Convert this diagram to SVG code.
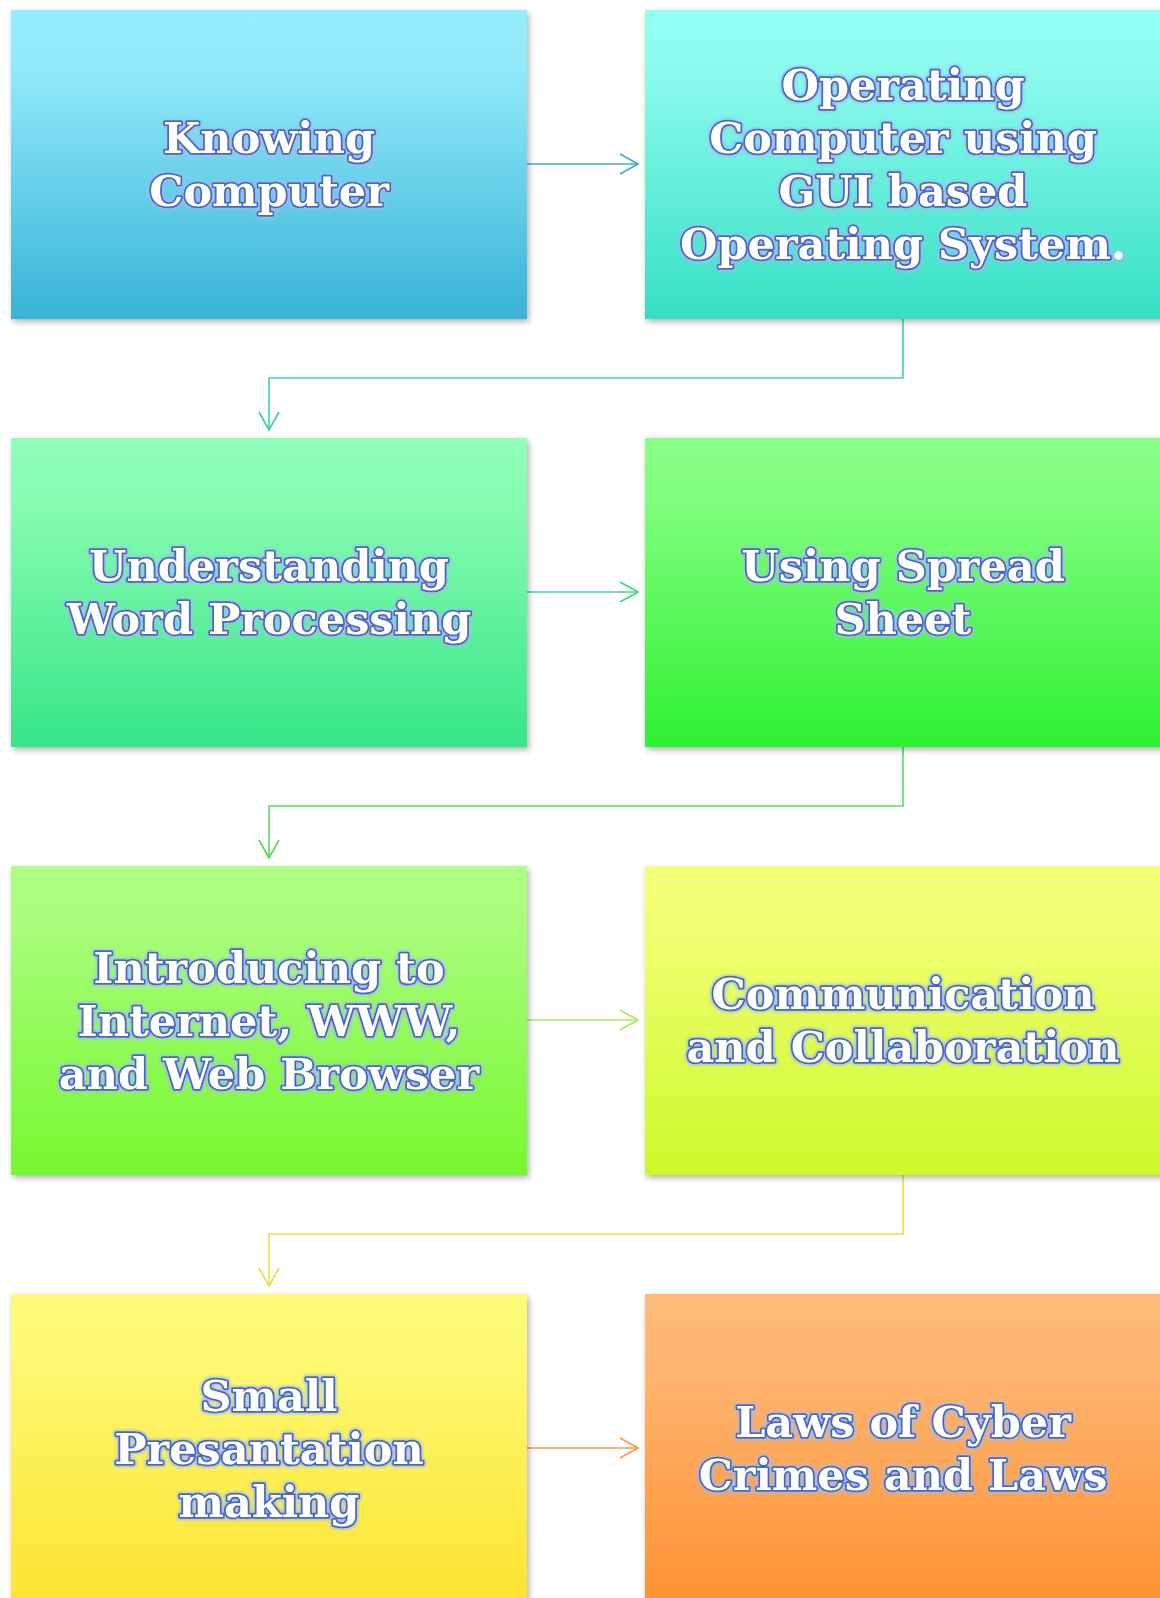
<svg xmlns="http://www.w3.org/2000/svg" width="1160" height="1598" viewBox="0 0 1160 1598">
<defs>
<style>
.box{filter:url(#shadow);}
.t{font-family:"DejaVu Serif","Liberation Serif",serif;font-weight:bold;font-size:43px;fill:#ffffff;stroke:#4a66bb;stroke-width:3.6;paint-order:stroke;stroke-linejoin:round;text-anchor:middle;filter:url(#glow);}
.c{fill:none;stroke-width:1.6;}
</style>
<filter id="shadow" x="-5%" y="-5%" width="115%" height="115%">
<feDropShadow dx="2" dy="3" stdDeviation="3" flood-color="#000" flood-opacity="0.3"/>
</filter>
<filter id="glow" x="-10%" y="-30%" width="120%" height="160%">
<feMorphology in="SourceAlpha" operator="dilate" radius="1.4" result="d"/>
<feGaussianBlur in="d" stdDeviation="1.8" result="b"/>
<feFlood flood-color="#9fbcf0"/>
<feComposite in2="b" operator="in" result="g"/>
<feMerge><feMergeNode in="g"/><feMergeNode in="SourceGraphic"/></feMerge>
</filter>
<linearGradient id="g1" x1="0" y1="0" x2="0" y2="1"><stop offset="0" stop-color="#95eefd"/><stop offset="0.2" stop-color="#8fe9fa"/><stop offset="1" stop-color="#38b3d6"/></linearGradient>
<linearGradient id="g2" x1="0" y1="0" x2="0" y2="1"><stop offset="0" stop-color="#92fff3"/><stop offset="0.2" stop-color="#8cfbee"/><stop offset="1" stop-color="#35dfc3"/></linearGradient>
<linearGradient id="g3" x1="0" y1="0" x2="0" y2="1"><stop offset="0" stop-color="#8effb8"/><stop offset="0.2" stop-color="#88fcb2"/><stop offset="1" stop-color="#36e688"/></linearGradient>
<linearGradient id="g4" x1="0" y1="0" x2="0" y2="1"><stop offset="0" stop-color="#8aff88"/><stop offset="0.2" stop-color="#80fd7e"/><stop offset="1" stop-color="#2ef132"/></linearGradient>
<linearGradient id="g5" x1="0" y1="0" x2="0" y2="1"><stop offset="0" stop-color="#aeff82"/><stop offset="0.2" stop-color="#a8fd7a"/><stop offset="1" stop-color="#76f82e"/></linearGradient>
<linearGradient id="g6" x1="0" y1="0" x2="0" y2="1"><stop offset="0" stop-color="#f6ff7a"/><stop offset="0.2" stop-color="#f2fe72"/><stop offset="1" stop-color="#ccfa2a"/></linearGradient>
<linearGradient id="g7" x1="0" y1="0" x2="0" y2="1"><stop offset="0" stop-color="#fdfb79"/><stop offset="0.2" stop-color="#fdf972"/><stop offset="1" stop-color="#fde22e"/></linearGradient>
<linearGradient id="g8" x1="0" y1="0" x2="0" y2="1"><stop offset="0" stop-color="#feb97a"/><stop offset="0.2" stop-color="#feb673"/><stop offset="1" stop-color="#fe9030"/></linearGradient>
<marker id="m1" markerUnits="userSpaceOnUse" markerWidth="22" markerHeight="24" viewBox="0 0 22 24" refX="20" refY="12" orient="auto"><path d="M2,2 L20,12 L2,22" fill="none" stroke="#47abca" stroke-width="1.8"/></marker>
<marker id="m2" markerUnits="userSpaceOnUse" markerWidth="22" markerHeight="24" viewBox="0 0 22 24" refX="20" refY="12" orient="auto"><path d="M2,2 L20,12 L2,22" fill="none" stroke="#3fd2ac" stroke-width="1.8"/></marker>
<marker id="m3" markerUnits="userSpaceOnUse" markerWidth="22" markerHeight="24" viewBox="0 0 22 24" refX="20" refY="12" orient="auto"><path d="M2,2 L20,12 L2,22" fill="none" stroke="#3ed88e" stroke-width="1.8"/></marker>
<marker id="m4" markerUnits="userSpaceOnUse" markerWidth="22" markerHeight="24" viewBox="0 0 22 24" refX="20" refY="12" orient="auto"><path d="M2,2 L20,12 L2,22" fill="none" stroke="#5ed85c" stroke-width="1.8"/></marker>
<marker id="m5" markerUnits="userSpaceOnUse" markerWidth="22" markerHeight="24" viewBox="0 0 22 24" refX="20" refY="12" orient="auto"><path d="M2,2 L20,12 L2,22" fill="none" stroke="#a6ee5a" stroke-width="1.8"/></marker>
<marker id="m6" markerUnits="userSpaceOnUse" markerWidth="22" markerHeight="24" viewBox="0 0 22 24" refX="20" refY="12" orient="auto"><path d="M2,2 L20,12 L2,22" fill="none" stroke="#e6e040" stroke-width="1.8"/></marker>
<marker id="m7" markerUnits="userSpaceOnUse" markerWidth="22" markerHeight="24" viewBox="0 0 22 24" refX="20" refY="12" orient="auto"><path d="M2,2 L20,12 L2,22" fill="none" stroke="#f99a48" stroke-width="1.8"/></marker>
</defs>
<rect width="1160" height="1598" fill="#ffffff"/>
<g id="connectors">
<path class="c" d="M527,164 H638" stroke="#47abca" marker-end="url(#m1)"/>
<path class="c" d="M903,319 V378 H269 V430" stroke="#3fd2ac" marker-end="url(#m2)"/>
<path class="c" d="M527,592 H638" stroke="#3ed88e" marker-end="url(#m3)"/>
<path class="c" d="M903,747 V806 H269 V858" stroke="#5ed85c" marker-end="url(#m4)"/>
<path class="c" d="M527,1020 H638" stroke="#a6ee5a" marker-end="url(#m5)"/>
<path class="c" d="M903,1175 V1234 H269 V1286" stroke="#e6e040" marker-end="url(#m6)"/>
<path class="c" d="M527,1448 H638" stroke="#f99a48" marker-end="url(#m7)"/>
</g>
<g id="n1"><rect class="box" x="11" y="10" width="516" height="309" fill="url(#g1)"/>
<text class="t"><tspan x="269" y="153">Knowing</tspan><tspan x="269" y="206">Computer</tspan></text></g>
<g id="n2"><rect class="box" x="645" y="10" width="520" height="309" fill="url(#g2)"/>
<text class="t"><tspan x="903" y="100">Operating</tspan><tspan x="903" y="153">Computer using</tspan><tspan x="903" y="206">GUI based</tspan><tspan x="903" y="259">Operating System<tspan stroke="none">.</tspan></tspan></text></g>
<g id="n3"><rect class="box" x="11" y="438" width="516" height="309" fill="url(#g3)"/>
<text class="t"><tspan x="269" y="581">Understanding</tspan><tspan x="269" y="634">Word Processing</tspan></text></g>
<g id="n4"><rect class="box" x="645" y="438" width="520" height="309" fill="url(#g4)"/>
<text class="t"><tspan x="903" y="581">Using Spread</tspan><tspan x="903" y="634">Sheet</tspan></text></g>
<g id="n5"><rect class="box" x="11" y="866" width="516" height="309" fill="url(#g5)"/>
<text class="t"><tspan x="269" y="983">Introducing to</tspan><tspan x="269" y="1036">Internet, WWW,</tspan><tspan x="269" y="1089">and Web Browser</tspan></text></g>
<g id="n6"><rect class="box" x="645" y="866" width="520" height="309" fill="url(#g6)"/>
<text class="t"><tspan x="903" y="1009">Communication</tspan><tspan x="903" y="1062">and Collaboration</tspan></text></g>
<g id="n7"><rect class="box" x="11" y="1294" width="516" height="320" fill="url(#g7)"/>
<text class="t"><tspan x="269" y="1411">Small</tspan><tspan x="269" y="1464">Presantation</tspan><tspan x="269" y="1517">making</tspan></text></g>
<g id="n8"><rect class="box" x="645" y="1294" width="520" height="320" fill="url(#g8)"/>
<text class="t"><tspan x="903" y="1437">Laws of Cyber</tspan><tspan x="903" y="1490">Crimes and Laws</tspan></text></g>
</svg>
